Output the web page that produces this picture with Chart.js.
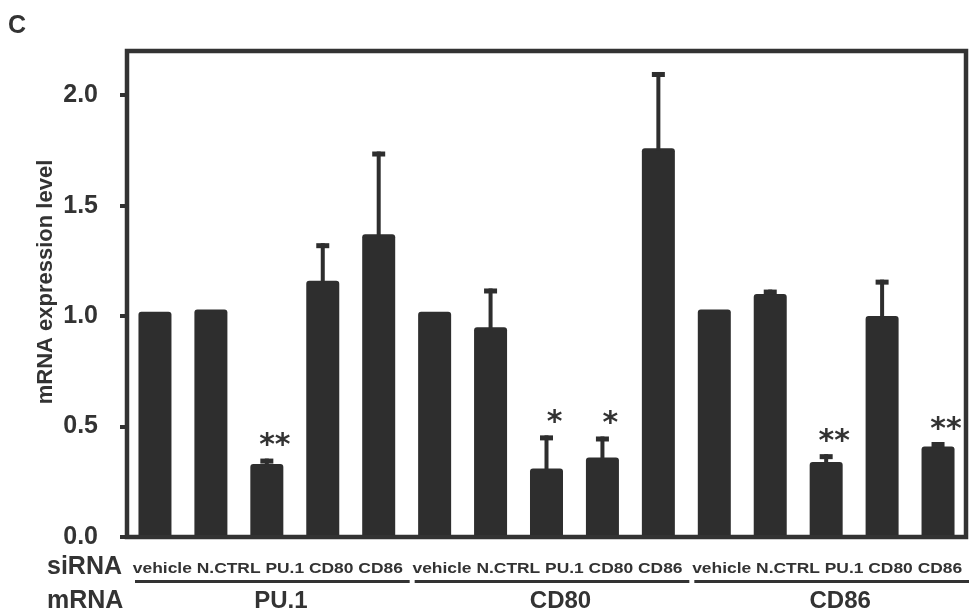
<!DOCTYPE html>
<html><head><meta charset="utf-8">
<script src="https://cdn.jsdelivr.net/npm/chart.js@4.4.0/dist/chart.umd.min.js"></script>
<style>html,body{margin:0;padding:0;background:#fff;}#wrap{width:973px;height:615px;}</style>
</head><body><div id="wrap"><canvas id="c" width="973" height="615"></canvas></div>
<script>
// ---- data ----
const panelLabel = 'C';
const yTitle = 'mRNA expression level';
const siRNA = ['vehicle', 'N.CTRL', 'PU.1', 'CD80', 'CD86'];
const mRNAGroups = ['PU.1', 'CD80', 'CD86'];
const rowLabels = ['siRNA', 'mRNA'];
const means  = [1.02, 1.03, 0.33, 1.16, 1.37,   1.02, 0.95, 0.31, 0.36, 1.76,   1.03, 1.10, 0.34, 1.00, 0.41];
const errors = [0,    0,    0.025,0.17, 0.375,  0,    0.175,0.15, 0.095,0.345,  0,    0.02, 0.035,0.165,0.02];
const stars  = ['',   '',   '**', '',   '',     '',   '',   '*',  '*',  '',     '',   '',   '**', '',   '**'];
const yTicks = [0, 0.5, 1.0, 1.5, 2.0];
const yMax = 2.2;

const labels = [];
mRNAGroups.forEach(g => siRNA.forEach(s => labels.push(g + ' / ' + s)));

const INK = '#333333';
const BAR = '#2e2e2e';
const SANS = '"Liberation Sans", Arial, Helvetica, sans-serif';

function textCentered(ctx, txt, x, cy) {
  const m = ctx.measureText(txt);
  ctx.fillText(txt, x, cy + (m.actualBoundingBoxAscent - m.actualBoundingBoxDescent) / 2);
}

const overlay = {
  id: 'overlay',
  afterDatasetsDraw(chart) {
    const ctx = chart.ctx, y = chart.scales.y, meta = chart.getDatasetMeta(0);
    const a = chart.chartArea;
    ctx.save();
    ctx.fillStyle = BAR;
    // error bars
    means.forEach((m, i) => {
      const e = errors[i];
      if (!e) return;
      const x = meta.data[i].x;
      const yt = y.getPixelForValue(m + e), yb = y.getPixelForValue(m);
      ctx.fillRect(x - 2, yt, 4, yb - yt + 2);
      ctx.fillRect(x - 6.5, yt, 13, 5);
    });
    // significance stars
    ctx.font = 'bold 30px "DejaVu Sans", sans-serif';
    ctx.textAlign = 'center';
    ctx.textBaseline = 'alphabetic';
    ctx.fillStyle = INK;
    stars.forEach((s, i) => {
      if (!s) return;
      const x = meta.data[i].x + 8;
      const yt = y.getPixelForValue(means[i] + errors[i]);
      textCentered(ctx, s, x, yt - 19);
    });
    // frame
    ctx.strokeStyle = INK;
    ctx.lineWidth = 4.5;
    ctx.strokeRect(a.left, a.top, a.right - a.left, a.bottom - a.top);
    ctx.restore();
  },
  afterDraw(chart) {
    const ctx = chart.ctx, xs = chart.scales.x;
    ctx.save();
    ctx.fillStyle = INK;
    ctx.textBaseline = 'alphabetic';
    // panel label
    ctx.font = 'bold 25px ' + SANS;
    ctx.textAlign = 'left';
    textCentered(ctx, panelLabel, 8, 24);
    // row labels
    textCentered(ctx, rowLabels[0], 47, 564);
    textCentered(ctx, rowLabels[1], 47, 599);
    // y title
    ctx.save();
    ctx.translate(46, 282);
    ctx.rotate(-Math.PI / 2);
    ctx.font = 'bold 22px ' + SANS;
    ctx.textAlign = 'center';
    textCentered(ctx, yTitle, 0, 0);
    ctx.restore();
    // group labels
    const n = siRNA.length;
    const step = xs.getPixelForValue(1) - xs.getPixelForValue(0);
    mRNAGroups.forEach((g, gi) => {
      const first = gi * n, last = first + n - 1;
      const cx = xs.getPixelForValue(first + (n - 1) / 2);
      const gl = xs.getPixelForValue(first) - step / 2;
      const gr = xs.getPixelForValue(last) + step / 2;
      // siRNA string
      const s = siRNA.join(' ');
      ctx.font = 'bold 14px ' + SANS;
      const w = ctx.measureText(s).width;
      ctx.save();
      ctx.translate(cx + 1, 0);
      ctx.scale(270 / w, 1);
      ctx.textAlign = 'center';
      textCentered(ctx, s, 0, 567);
      ctx.restore();
      // underline
      ctx.fillRect(gl + 8, 580, (gr + 3) - (gl + 8), 3);
      // mRNA label
      ctx.font = 'bold 24px ' + SANS;
      ctx.textAlign = 'center';
      textCentered(ctx, g, cx + 14, 599);
    });
    ctx.restore();
  }
};

new Chart(document.getElementById('c').getContext('2d'), {
  type: 'bar',
  data: {
    labels: labels,
    datasets: [{
      data: means,
      backgroundColor: BAR,
      borderWidth: 0,
      borderRadius: 3,
      borderSkipped: 'start',
      barPercentage: 0.59,
      categoryPercentage: 1.0
    }]
  },
  options: {
    responsive: false,
    animation: false,
    devicePixelRatio: 1,
    layout: { padding: { top: 51, right: 7, bottom: 78, left: 0 } },
    plugins: { legend: { display: false }, tooltip: { enabled: false } },
    scales: {
      x: { display: false },
      y: {
        min: 0, max: yMax,
        afterFit(s) { s.width = 127; },
        afterBuildTicks(s) { s.ticks = yTicks.map(v => ({ value: v })); },
        ticks: {
          callback: v => Number(v).toFixed(1),
          font: { family: SANS, size: 25, weight: 'bold' },
          color: INK,
          padding: 22
        },
        grid: { drawOnChartArea: false, drawTicks: true, tickLength: 7, lineWidth: 4, color: INK },
        border: { display: false }
      }
    }
  },
  plugins: [overlay]
});
</script>
</body></html>
